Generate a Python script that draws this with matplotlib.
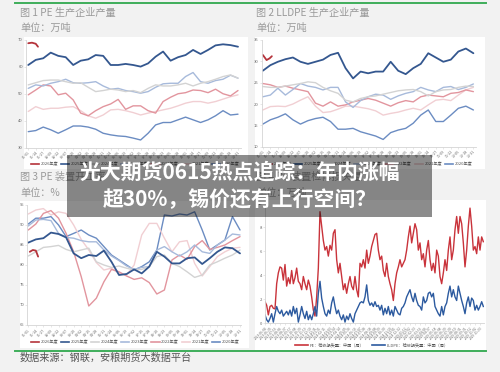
import numpy as np
import pandas as pd
import matplotlib
matplotlib.use('Agg')
import matplotlib.pyplot as plt
from matplotlib.patches import Rectangle
from matplotlib.lines import Line2D

plt.rcParams['font.family'] = ['Noto Sans CJK SC', 'DejaVu Sans']

# ---------------- data ----------------
YEARS = ["2026年度", "2025年度", "2024年度", "2023年度", "2022年度", "2021年度", "2020年度"]
WEEKS = np.arange(29)
WEEK_LABELS = list(pd.date_range('2025-01-01', periods=29, freq='13D').strftime('%m-%d'))

# Fig 1: PE output (万吨)
pe_x26 = [0, 0.5, 1.0, 1.3]
pe_2026 = [68.8, 69.0, 68.6, 67.5]
pe_2025 = [60.7, 62.6, 63.2, 65.3, 64.1, 63.6, 60.7, 62.3, 62.8, 64.4, 64.1, 60.7, 60.7, 61.1, 60.7,
           60.1, 61.3, 63.8, 65.7, 62.3, 63.6, 64.4, 66.3, 64.8, 66.3, 68.0, 68.4, 68.1, 67.5]
pe_2024 = [53.3, 54.1, 54.9, 55.1, 55.1, 54.5, 53.9, 54.1, 52.4, 50.8, 51.2, 51.7, 51.4, 50.8, 51.2,
           50.4, 52.0, 53.3, 52.9, 52.9, 53.3, 53.9, 52.9, 53.9, 54.5, 55.4, 56.4, 57.0, 55.8]
pe_2023 = [52.0, 53.3, 52.9, 53.9, 54.5, 55.4, 54.1, 53.9, 54.1, 54.5, 52.9, 51.7, 52.0, 51.2, 50.8,
           50.2, 50.8, 52.4, 53.7, 53.9, 53.9, 56.4, 57.9, 54.5, 53.9, 54.9, 55.4, 56.9, 55.8]
pe_2022 = [49.6, 51.4, 53.3, 52.9, 49.6, 50.2, 47.7, 42.8, 41.8, 43.7, 45.2, 46.2, 47.9, 44.2, 45.5,
           45.5, 43.7, 42.8, 47.1, 48.7, 50.0, 50.4, 51.4, 51.2, 50.4, 51.7, 50.0, 49.2, 51.2]
pe_2021 = [43.4, 45.2, 44.2, 44.6, 44.6, 45.0, 45.2, 43.7, 41.8, 40.9, 42.1, 44.0, 44.2, 43.7, 43.0,
           42.1, 42.8, 43.4, 44.0, 44.6, 45.5, 46.5, 47.1, 47.1, 46.5, 47.1, 48.0, 48.9, 49.6]
pe_2020 = [35.9, 36.3, 37.6, 36.6, 35.3, 36.6, 38.0, 38.0, 37.6, 36.8, 35.3, 34.7, 34.3, 34.1, 33.5,
           32.8, 35.3, 38.4, 39.3, 39.3, 40.3, 41.3, 40.3, 39.3, 40.3, 41.8, 43.7, 42.1, 42.4]

# Fig 2: LLDPE output (万吨)
ll_x26 = [0, 0.5, 0.9, 1.2]
ll_2026 = [31.5, 30.3, 30.7, 31.2]
ll_2025 = [27.8, 29.1, 29.9, 30.5, 30.9, 29.9, 29.4, 29.9, 30.4, 31.5, 32.0, 28.4, 26.0, 27.6, 27.2,
           27.6, 27.6, 29.9, 27.8, 27.0, 28.4, 29.4, 31.9, 30.9, 29.9, 30.4, 32.3, 33.0, 31.9]
ll_2024 = [24.1, 23.9, 23.9, 24.2, 24.5, 24.8, 25.2, 25.0, 23.9, 23.1, 22.5, 20.9, 20.5, 21.3, 21.7,
           21.9, 22.3, 22.7, 23.1, 23.3, 23.4, 22.9, 21.9, 22.9, 23.3, 23.4, 23.9, 24.2, 24.1]
ll_2023 = [21.7, 22.1, 23.7, 22.1, 23.4, 24.8, 24.2, 23.9, 23.3, 23.9, 23.9, 20.5, 19.2, 20.8, 21.7,
           22.3, 22.1, 21.1, 21.9, 22.5, 22.9, 23.9, 23.3, 22.9, 23.9, 24.1, 23.4, 23.9, 24.7]
ll_2022 = [24.8, 24.5, 23.9, 24.2, 23.7, 23.3, 22.9, 20.2, 19.5, 20.5, 19.5, 19.8, 20.5, 20.9, 21.3,
           20.9, 20.2, 19.5, 20.3, 20.8, 20.5, 21.7, 22.1, 21.9, 21.7, 22.5, 22.7, 23.3, 22.9]
ll_2021 = [18.6, 19.4, 19.5, 19.4, 20.0, 20.9, 21.7, 19.5, 18.0, 18.2, 18.8, 19.5, 19.5, 19.2, 18.9,
           18.4, 17.4, 17.8, 18.1, 18.6, 19.0, 18.6, 19.8, 20.9, 21.1, 20.8, 22.1, 23.3, 23.9]
ll_2020 = [15.3, 16.3, 16.9, 17.7, 16.3, 15.3, 16.1, 16.6, 16.9, 15.9, 14.1, 14.1, 14.3, 13.5, 13.0,
           12.5, 11.7, 13.3, 13.9, 14.3, 15.5, 17.4, 18.6, 15.9, 15.9, 17.4, 19.0, 19.5, 18.6]

# Fig 3: PE operating rate (%)
op_x26 = [0.2, 0.6, 1.0, 1.3]
op_2026 = [83.3, 83.75, 83.6, 82.1]
op_2025 = [85.6, 86.4, 86.7, 88.1, 87.75, 86.9, 82.9, 81.7, 82.5, 82.25, 83.6, 80.8, 77.5, 77.75, 78.9,
           77.9, 79.6, 83.3, 82.1, 80.4, 80.4, 81.7, 81.9, 80.25, 81.7, 83.3, 84.4, 84.2, 82.9]
op_2024 = [82.25, 83.3, 84.4, 84.6, 84.9, 83.9, 83.3, 83.75, 84.2, 80.8, 80.0, 79.4, 79.75, 79.2, 78.75,
           78.9, 79.6, 82.1, 82.5, 80.4, 79.6, 78.3, 76.9, 77.5, 80.0, 80.8, 81.7, 82.5, 83.75]
op_2023 = [89.75, 91.25, 91.4, 91.1, 87.9, 86.9, 86.7, 86.1, 85.8, 85.8, 83.75, 82.25, 81.1, 79.75, 78.9,
           79.4, 79.6, 83.75, 84.6, 83.3, 82.25, 83.3, 85.0, 83.3, 82.9, 85.0, 86.25, 87.75, 87.5]
op_2022 = [88.75, 90.25, 92.9, 93.6, 91.7, 87.9, 83.3, 77.1, 69.75, 71.7, 75.8, 78.9, 78.3, 77.25, 76.4,
           76.8, 75.6, 72.75, 73.75, 81.25, 82.5, 81.4, 84.6, 86.1, 83.9, 84.4, 85.0, 86.1, 87.1]
op_2021 = [92.75, 93.75, 94.1, 92.5, 93.3, 92.9, 90.0, 86.4, 83.75, 80.6, 78.75, 79.2, 77.9, 77.5, 80.0,
           87.5, 90.4, 90.4, 86.7, 83.3, 85.8, 86.1, 80.4, 77.25, 79.6, 82.1, 83.3, 84.2, 84.4]
op_2020 = [90.25, 91.7, 91.7, 92.1, 90.0, 87.1, 87.9, 88.75, 87.5, 86.7, 84.6, 82.5, 81.25, 80.0, 78.75,
           79.6, 80.8, 83.75, 92.5, 92.25, 92.75, 92.5, 93.3, 88.75, 83.75, 85.0, 86.25, 92.1, 88.75]

# Fig 4: maintenance losses (万吨, weekly)
LOSS_DATES = pd.date_range('2023-06-04', periods=132, freq='W')
pe_loss = [1.8, 1.5, 0.7, 1.4, 1.5, 1.25, 1.2, 3.3, 4.2, 4.7,
           4.6, 3.6, 4.9, 3.1, 3.8, 3.3, 4.4, 3.3, 3.8, 4.6,
           3.5, 3.3, 2.8, 3.9, 3.3, 2.8, 3.6, 3.1, 2.2, 1.1,
           0.6, 2.2, 4.6, 9.3, 8.1, 6.9, 6.1, 6.4, 5.6, 6.5,
           6.1, 7.5, 7.8, 5.3, 4.2, 5.0, 3.9, 2.8, 3.3, 2.5,
           3.3, 3.9, 3.1, 2.8, 3.9, 2.8, 2.2, 5.0, 4.7, 5.3,
           4.6, 6.1, 5.0, 5.6, 6.4, 6.9, 7.4, 7.5, 6.1, 5.3,
           5.6, 4.4, 3.9, 5.0, 3.9, 3.3, 2.8, 1.9, 3.3, 4.2,
           4.7, 5.3, 4.7, 5.0, 5.3, 6.1, 7.2, 8.1, 6.7, 7.5,
           8.3, 7.8, 6.1, 6.7, 5.3, 5.8, 4.7, 6.1, 6.9, 5.3,
           4.4, 5.0, 4.2, 6.1, 5.6, 3.9, 3.3, 4.2, 5.3, 4.4,
           6.1, 7.2, 5.3, 6.1, 7.8, 8.9, 7.5, 8.9, 8.3, 6.7,
           4.7, 6.1, 8.1, 9.6, 8.1, 6.1, 6.4, 5.8, 7.2, 6.1,
           7.2, 6.8]
lldpe_loss = [0.7, 0.3, 0.1, 0.4, 0.8, 0.1, 0.8, 1.4, 1.0, 0.8,
              1.1, 0.6, 0.8, 1.0, 0.7, 1.1, 0.6, 1.4, 0.8, 1.25,
              0.1, 0.7, 1.4, 0.8, 0.4, 1.0, 0.3, 0.7, 0.3, 0.8,
              1.4, 0.6, 2.5, 3.5, 2.1, 1.4, 0.8, 0.6, 1.1, 0.8,
              1.7, 2.2, 1.4, 0.8, 1.1, 0.6, 0.3, 0.7, 0.1, 0.6,
              0.3, 0.8, 0.4, 0.1, 0.8, 1.1, 1.4, 1.7, 1.8, 1.7,
              2.2, 3.2, 1.9, 1.5, 1.7, 1.4, 1.8, 1.4, 1.5, 1.1,
              1.5, 0.7, 1.25, 0.8, 1.4, 0.7, 1.1, 0.6, 1.4, 1.1,
              0.8, 0.7, 1.25, 1.4, 1.7, 2.2, 2.5, 2.8, 2.2, 1.8,
              2.5, 1.9, 1.5, 1.4, 1.1, 2.2, 1.7, 1.9, 2.5, 2.6,
              2.2, 2.5, 1.4, 1.1, 0.8, 0.6, 1.4, 0.7, 1.4, 1.7,
              2.5, 3.1, 2.2, 2.8, 2.2, 1.9, 3.1, 2.5, 1.9, 1.4,
              0.8, 1.7, 2.2, 1.4, 2.1, 1.9, 1.1, 1.5, 1.1, 1.4,
              1.8, 1.4]
LOSS_LABELS = ["PE：检修损失量：中国（周）", "LLDPE：检修损失量：中国（周）"]

YEAR_COLORS = ['#b5333b', '#34578f', '#d3d3d3', '#a7badb', '#e2959e', '#f1cfd3', '#6b8cc2']
YEAR_LW = [1.3, 1.3, 1.0, 1.0, 1.0, 1.0, 1.0]

# ---------------- figure ----------------
W, H = 500, 372
fig = plt.figure(figsize=(5, 3.72), dpi=100, facecolor='#f2f2f2')


def rect_px(x0, y0, x1, y1, **kw):
    r = Rectangle((x0 / W, 1 - y1 / H), (x1 - x0) / W, (y1 - y0) / H,
                  transform=fig.transFigure, **kw)
    fig.add_artist(r)
    return r


def axes_px(x0, y0, x1, y1):
    ax = fig.add_axes([x0 / W, 1 - y1 / H, (x1 - x0) / W, (y1 - y0) / H])
    ax.set_facecolor('none')
    for s in ['top', 'right']:
        ax.spines[s].set_visible(False)
    for s in ['left', 'bottom']:
        ax.spines[s].set_color('#d4d4d4')
        ax.spines[s].set_linewidth(0.6)
    ax.tick_params(axis='both', length=1.2, width=0.4, color='#d4d4d4',
                   labelcolor='#666666', pad=1)
    return ax


def ftext(x, y, s, **kw):
    fig.text(x / W, 1 - y / H, s, **kw)


# white panels
rect_px(24, 37, 248, 169, facecolor='white', edgecolor='none', zorder=-1)
rect_px(255, 37, 485, 169, facecolor='white', edgecolor='none', zorder=-1)
rect_px(20, 201, 249, 348, facecolor='white', edgecolor='none', zorder=-1)
rect_px(255, 200, 486, 350, facecolor='white', edgecolor='none', zorder=-1)

# green rules
fig.add_artist(Line2D([15 / W, 486 / W], [1 - 3 / H, 1 - 3 / H], transform=fig.transFigure,
                      color='#3fae5a', lw=1.4))
fig.add_artist(Line2D([15 / W, 486 / W], [1 - 351 / H, 1 - 351 / H], transform=fig.transFigure,
                      color='#3fae5a', lw=1.4))

tcol = '#9a9a9a'
ftext(20, 13, "图 1 PE 生产企业产量", fontsize=7.3, color=tcol, va='center')
ftext(20, 28, "单位：万吨", fontsize=7.3, color=tcol, va='center')
ftext(256, 13, "图 2 LLDPE 生产企业产量", fontsize=7.3, color=tcol, va='center')
ftext(256, 28, "单位：万吨", fontsize=7.3, color=tcol, va='center')
ftext(20, 177, "图 3 PE 装置开工率", fontsize=7.3, color=tcol, va='center')
ftext(20, 193, "单位：%", fontsize=7.3, color=tcol, va='center')
ftext(256, 177, "图 4 PE 装置检修损失量", fontsize=7.3, color=tcol, va='center')
ftext(256, 193, "单位：万吨", fontsize=7.3, color=tcol, va='center')
ftext(20, 358, "数据来源：钢联，安粮期货大数据平台", fontsize=7.3, color='#555555', va='center')


def year_panel(ax, series, x26, ylim, yticks):
    for i in range(len(series) - 1, -1, -1):
        xs = x26 if i == 0 else WEEKS
        ax.plot(xs, series[i], color=YEAR_COLORS[i], lw=YEAR_LW[i], solid_capstyle='round')
    ax.set_ylim(*ylim)
    ax.set_yticks(yticks)
    ax.set_xticks(WEEKS)
    ax.set_xticklabels(WEEK_LABELS, rotation=45, ha='right', rotation_mode='anchor')
    ax.tick_params(axis='x', labelsize=2.6)
    ax.tick_params(axis='y', labelsize=3)


def year_legend(cx, cy):
    handles = [Line2D([], [], color=c, lw=1.2) for c in YEAR_COLORS]
    fig.legend(handles, YEARS, ncol=7, fontsize=3, frameon=False, handlelength=2.0,
               handletextpad=0.4, columnspacing=0.6, loc='center',
               bbox_to_anchor=(cx / W, 1 - cy / H), labelcolor='#555555')


ax1 = axes_px(26, 40, 241, 147.5)
year_panel(ax1, [pe_2026, pe_2025, pe_2024, pe_2023, pe_2022, pe_2021, pe_2020], pe_x26,
           (30, 70), [30, 40, 50, 60, 70])
ax1.set_xlim(-0.3, 28.4)
year_legend(135, 164)

ax2 = axes_px(261.7, 40, 476.4, 146.7)
year_panel(ax2, [ll_2026, ll_2025, ll_2024, ll_2023, ll_2022, ll_2021, ll_2020], ll_x26,
           (10, 35), [10, 15, 20, 25, 30, 35])
ax2.set_xlim(-0.15, 28.4)
year_legend(368, 164)

ax3 = axes_px(27.3, 205, 241, 325)
year_panel(ax3, [op_2026, op_2025, op_2024, op_2023, op_2022, op_2021, op_2020], op_x26,
           (65, 95), [65, 70, 75, 80, 85, 90, 95])
ax3.set_xlim(-0.13, 28.13)
year_legend(135, 342)

ax4 = axes_px(265, 203.3, 484, 323.3)
xl = np.arange(len(pe_loss))
ax4.plot(xl, pe_loss, color='#c9333b', lw=1.0)
ax4.plot(xl, lldpe_loss, color='#2c5a9f', lw=1.0)
ax4.set_ylim(0, 10)
ax4.set_yticks([0, 2, 4, 6, 8, 10])
ax4.set_xlim(0, 131.4)
tick_idx = xl[::3]
ax4.set_xticks(tick_idx)
ax4.set_xticklabels([LOSS_DATES[i].strftime('%Y-%m-%d') for i in tick_idx],
                    rotation=45, ha='right', rotation_mode='anchor')
ax4.tick_params(axis='x', labelsize=2.3)
ax4.tick_params(axis='y', labelsize=3)
h4 = [Line2D([], [], color='#c9333b', lw=1.2), Line2D([], [], color='#2c5a9f', lw=1.2)]
fig.legend(h4, LOSS_LABELS, ncol=2, fontsize=3, frameon=False, handlelength=3.0,
           handletextpad=0.4, columnspacing=2.0, loc='center',
           bbox_to_anchor=(372 / W, 1 - 345 / H), labelcolor='#555555')

# headline overlay
rect_px(67, 155, 432, 217, facecolor='black', alpha=0.45, edgecolor='none', zorder=10)
ftext(240, 172, "光大期货0615热点追踪：年内涨幅", fontsize=15, fontweight='bold', color='white',
      ha='center', va='center', zorder=11)
ftext(240, 200, "超30%，锡价还有上行空间？", fontsize=15, fontweight='bold', color='white',
      ha='center', va='center', zorder=11)

fig.savefig('out.png', dpi=100, facecolor=fig.get_facecolor())
